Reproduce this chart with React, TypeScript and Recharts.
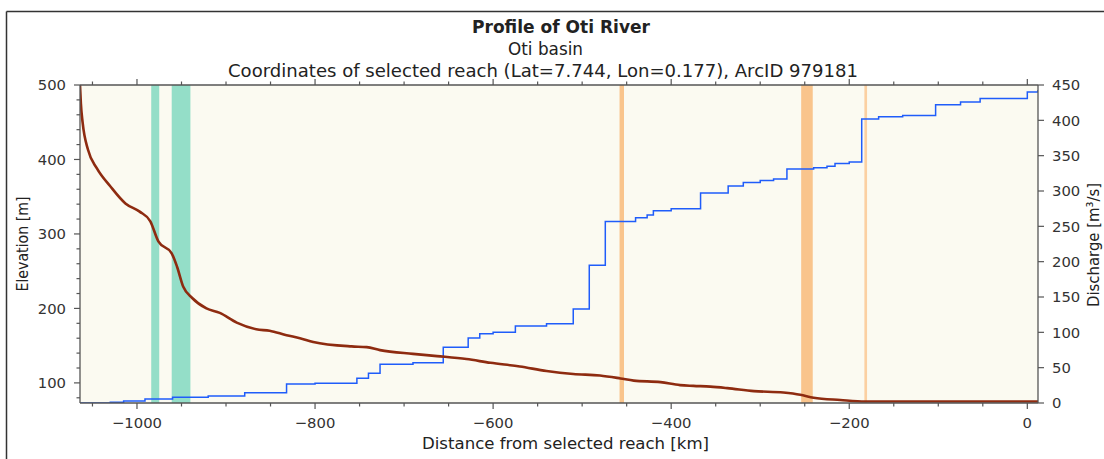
import { CartesianGrid, ComposedChart, Line, ReferenceArea, XAxis, YAxis } from "recharts";

const AXIS = "#555555";
const TEXT = "#333333";
const FONT = "'DejaVu Sans', sans-serif";
const BROWN = "#8E2B10";
const BLUE = "#1F5CFA";
const TEAL = "#94DEC8";
const ORANGE = "#F9C48C";
const ORANGE_LIGHT = "#FBD0A2";
const PLOT_BG = "#FBFAF1";

// distance from selected reach (km) / elevation (m)
const elevKm = [
  -1064, -1063, -1061, -1055, -1045, -1030, -1013, -997, -985, -976, -961, -955, -948, -938, -922, -907,
  -888, -866, -851, -832, -817, -802, -759, -742, -727, -690, -663, -630, -603, -570, -540, -510, -480,
  -457, -442, -412, -390, -375, -356, -337, -307, -274, -255, -240, -210, -182, 12,
];
const elevM = [
  500, 475, 449, 413, 388, 364, 341, 330, 317, 290, 274, 256, 229, 214, 200, 194, 181, 172, 170, 164, 160,
  155, 149, 148, 144, 139, 136, 132, 127, 122, 116, 112, 110, 106, 103, 101, 97, 96, 95, 93, 89, 87, 84,
  80, 77, 75, 75,
];

// discharge (m3/s), value holds from each km until the next one
const qKm = [
  -1064, -1030, -1015, -991, -960, -920, -879, -832, -800, -753, -740, -727, -690, -656, -628, -615, -600,
  -575, -540, -510, -492, -474, -440, -427, -420, -400, -367, -336, -319, -300, -285, -270, -240,
  -225, -216, -200, -186, -167, -140, -103, -75, -53, 0, 12,
];
const qVal = [
  0, 1, 3, 5.5, 8, 10, 14.5, 27, 28, 35, 42, 55, 57, 79, 92, 98, 100, 109, 112, 133, 195, 257, 262,
  266, 272, 275, 297, 307, 312, 315, 317, 331, 333, 335, 339, 341, 402, 405, 407, 422, 426, 431, 440, 443,
];

// highlighted reaches (km from, km to)
const tealBands = [
  [-984, -975],
  [-961, -940],
];
const orangeBands = [
  [-458, -453],
  [-254, -241],
];
const thinBands = [[-183, -180]];

const X_DOMAIN = [-1064, 12];
const X_TICKS = [
  -1050, -1000, -950, -900, -850, -800, -750, -700, -650, -600, -550, -500, -450, -400, -350, -300, -250,
  -200, -150, -100, -50, 0,
];
const ELEV_DOMAIN = [73, 500];
const ELEV_TICKS = [
  80, 100, 120, 140, 160, 180, 200, 220, 240, 260, 280, 300, 320, 340, 360, 380, 400, 420, 440, 460, 480, 500,
];
const Q_DOMAIN = [0, 450];
const Q_TICKS = [0, 50, 100, 150, 200, 250, 300, 350, 400, 450];

const elevData = elevKm.map((km, i) => ({ km, elev: elevM[i] }));
const qData = qKm.map((km, i) => ({ km, q: qVal[i] }));

const fmt = (v: number) => (v < 0 ? `\u2212${Math.abs(v)}` : String(v));
const tickText = { fill: TEXT, fontSize: 14.8, fontFamily: FONT };

function BottomTick({ x, y, payload }: any) {
  const v = payload.value as number;
  const major = v % 200 === 0;
  return (
    <g>
      <line x1={x} x2={x} y1={y} y2={y + (major ? 6 : 3.5)} stroke={AXIS} strokeWidth={1.2} />
      {major ? (
        <text x={x} y={y + 25} textAnchor="middle" {...tickText}>
          {fmt(v)}
        </text>
      ) : null}
    </g>
  );
}

function TopTick({ x, y, payload }: any) {
  const major = (payload.value as number) % 200 === 0;
  return <line x1={x} x2={x} y1={y} y2={y - (major ? 6 : 3.5)} stroke={AXIS} strokeWidth={1.2} />;
}

function LeftTick({ x, y, payload }: any) {
  const v = payload.value as number;
  const major = v % 100 === 0;
  return (
    <g>
      <line x1={x - (major ? 6 : 3.5)} x2={x} y1={y} y2={y} stroke={AXIS} strokeWidth={1.2} />
      {major ? (
        <text x={x - 14} y={y} dy="0.36em" textAnchor="end" {...tickText}>
          {fmt(v)}
        </text>
      ) : null}
    </g>
  );
}

function RightTick({ x, y, payload }: any) {
  return (
    <g>
      <line x1={x} x2={x + 6} y1={y} y2={y} stroke={AXIS} strokeWidth={1.2} />
      <text x={x + 14} y={y} dy="0.36em" textAnchor="start" {...tickText}>
        {fmt(payload.value)}
      </text>
    </g>
  );
}

export default function App() {
  const axisLine = { stroke: AXIS, strokeWidth: 1.3 };
  return (
    <div
      style={{
        position: "absolute",
        left: 0,
        top: 0,
        width: 1104,
        height: 459,
        background: "#fff",
        overflow: "hidden",
      }}
    >
      <ComposedChart width={1104} height={459} margin={{ top: 75, right: 26, bottom: 26, left: 35 }}>
        <CartesianGrid horizontal={false} vertical={false} fill={PLOT_BG} stroke="none" />
        <XAxis
          type="number"
          dataKey="km"
          domain={X_DOMAIN}
          ticks={X_TICKS}
          allowDataOverflow
          height={30}
          tickSize={0}
          tickMargin={0}
          tickLine={false}
          axisLine={axisLine}
          tick={<BottomTick />}
          interval={0}
        />
        <XAxis
          xAxisId="top"
          orientation="top"
          type="number"
          dataKey="km"
          domain={X_DOMAIN}
          ticks={X_TICKS}
          allowDataOverflow
          height={10}
          tickSize={0}
          tickMargin={0}
          tickLine={false}
          axisLine={axisLine}
          tick={<TopTick />}
          interval={0}
        />
        <YAxis
          type="number"
          domain={ELEV_DOMAIN}
          ticks={ELEV_TICKS}
          allowDataOverflow
          width={45}
          tickSize={0}
          tickMargin={0}
          tickLine={false}
          axisLine={axisLine}
          tick={<LeftTick />}
          interval={0}
        />
        <YAxis
          yAxisId="right"
          orientation="right"
          type="number"
          domain={Q_DOMAIN}
          ticks={Q_TICKS}
          allowDataOverflow
          width={40}
          tickSize={0}
          tickMargin={0}
          tickLine={false}
          axisLine={axisLine}
          tick={<RightTick />}
          interval={0}
        />
        {tealBands.map(([a, b]) => (
          <ReferenceArea key={`t${a}`} x1={a} x2={b} fill={TEAL} fillOpacity={1} stroke="none" />
        ))}
        {orangeBands.map(([a, b]) => (
          <ReferenceArea key={`o${a}`} x1={a} x2={b} fill={ORANGE} fillOpacity={1} stroke="none" />
        ))}
        {thinBands.map(([a, b]) => (
          <ReferenceArea key={`l${a}`} x1={a} x2={b} fill={ORANGE_LIGHT} fillOpacity={1} stroke="none" />
        ))}
        <Line
          data={qData}
          dataKey="q"
          yAxisId="right"
          type="stepAfter"
          stroke={BLUE}
          strokeWidth={1.5}
          dot={false}
          isAnimationActive={false}
        />
        <Line
          data={elevData}
          dataKey="elev"
          type="monotone"
          stroke={BROWN}
          strokeWidth={2.6}
          dot={false}
          isAnimationActive={false}
        />
      </ComposedChart>
      <svg
        width={1104}
        height={459}
        style={{ position: "absolute", left: 0, top: 0, pointerEvents: "none" }}
        fontFamily={FONT}
      >
        <line x1={6.5} y1={11.5} x2={1104} y2={11.5} stroke="#333" strokeWidth={1.5} />
        <line x1={6.5} y1={11.5} x2={6.5} y2={459} stroke="#333" strokeWidth={1.5} />
        <text
          x={561}
          y={33}
          textAnchor="middle"
          fontSize={17}
          fontWeight="bold"
          fill="#222"
          textLength={178}
          lengthAdjust="spacingAndGlyphs"
        >
          Profile of Oti River
        </text>
        <text
          x={545.5}
          y={55}
          textAnchor="middle"
          fontSize={16.8}
          fill="#222"
          textLength={75}
          lengthAdjust="spacingAndGlyphs"
        >
          Oti basin
        </text>
        <text
          x={543}
          y={77}
          textAnchor="middle"
          fontSize={16.8}
          fill="#222"
          textLength={630}
          lengthAdjust="spacingAndGlyphs"
        >
          Coordinates of selected reach (Lat=7.744, Lon=0.177), ArcID 979181
        </text>
        <text
          x={565.5}
          y={448.5}
          textAnchor="middle"
          fontSize={16.5}
          fill="#222"
          textLength={287}
          lengthAdjust="spacingAndGlyphs"
        >
          Distance from selected reach [km]
        </text>
        <text
          x={0}
          y={0}
          textAnchor="middle"
          fontSize={16.5}
          fill="#222"
          transform="translate(28 244) rotate(-90)"
          textLength={95}
          lengthAdjust="spacingAndGlyphs"
        >
          Elevation [m]
        </text>
        <text
          x={0}
          y={0}
          textAnchor="middle"
          fontSize={16.5}
          fill="#222"
          transform="translate(1099 245) rotate(-90)"
          textLength={124}
          lengthAdjust="spacingAndGlyphs"
        >
          Discharge [m³/s]
        </text>
      </svg>
    </div>
  );
}
